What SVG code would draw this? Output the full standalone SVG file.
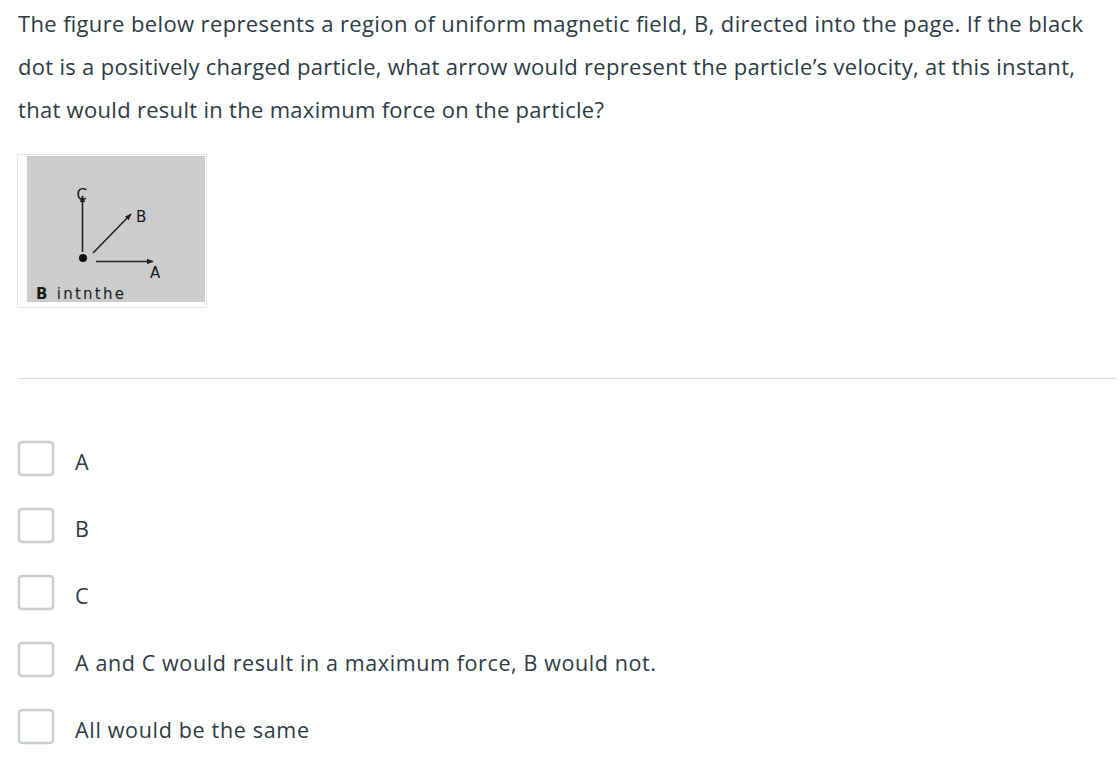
<svg xmlns="http://www.w3.org/2000/svg" width="1119" height="763" viewBox="0 0 1119 763">
  <defs>
    <style>
      .q { font-family: "Open Sans", "Noto Sans", sans-serif; font-size: 22px; fill: #2d3b45; }
      .opt { font-family: "Open Sans", "Noto Sans", sans-serif; font-size: 21.5px; fill: #2d3b45; }
      .box { fill: #ffffff; stroke: #c7cdd1; stroke-width: 2.5; }
      .lbl { font-family: "DejaVu Sans", "Liberation Sans", sans-serif; font-size: 15px; fill: #1a1a1a; }
      .arr { stroke: #222222; stroke-width: 1.6; fill: none; }
    </style>
    <marker id="head" viewBox="0 0 10 10" refX="9" refY="5" markerWidth="7" markerHeight="7" orient="auto" markerUnits="userSpaceOnUse">
      <path d="M0,1 L10,5 L0,9 Z" fill="#222222"/>
    </marker>
  </defs>
  <rect width="1119" height="763" fill="#ffffff"/>

  <g id="question">
    <text class="q" x="18" y="32" textLength="1065" lengthAdjust="spacing">The figure below represents a region of uniform magnetic field, B, directed into the page. If the black</text>
    <text class="q" x="18" y="75" textLength="1057" lengthAdjust="spacing">dot is a positively charged particle, what arrow would represent the particle’s velocity, at this instant,</text>
    <text class="q" x="18" y="118" textLength="586" lengthAdjust="spacing">that would result in the maximum force on the particle?</text>
  </g>

  <g id="figure">
    <rect x="17.5" y="154.5" width="189" height="153" fill="#ffffff" stroke="#e6e6e6" stroke-width="1"/>
    <rect x="27" y="156" width="178" height="146" fill="#cccccc"/>
    <g id="connectors">
      <line class="arr" x1="82.5" y1="252" x2="82.5" y2="196" marker-end="url(#head)"/>
      <line class="arr" x1="93" y1="253" x2="131" y2="214" marker-end="url(#head)"/>
      <line class="arr" x1="96" y1="261.5" x2="153" y2="261.5" marker-end="url(#head)"/>
    </g>
    <circle id="particle" cx="83" cy="258" r="4" fill="#111111"/>
    <text class="lbl" x="76.5" y="200">C</text>
    <text class="lbl" x="136" y="222">B</text>
    <text class="lbl" x="150" y="278">A</text>
    <text class="lbl" x="36" y="299" font-size="15" textLength="88" lengthAdjust="spacing"><tspan font-weight="bold">B</tspan> intnthe</text>
  </g>

  <line id="divider" x1="18" y1="378.5" x2="1117" y2="378.5" stroke="#dcdcdc" stroke-width="1"/>

  <g id="option-a">
    <rect class="box" x="19" y="442" width="34" height="33" rx="3"/>
    <text class="opt" x="75" y="470">A</text>
  </g>
  <g id="option-b">
    <rect class="box" x="19" y="509" width="34" height="33" rx="3"/>
    <text class="opt" x="75" y="537">B</text>
  </g>
  <g id="option-c">
    <rect class="box" x="19" y="576" width="34" height="33" rx="3"/>
    <text class="opt" x="75" y="604">C</text>
  </g>
  <g id="option-d">
    <rect class="box" x="19" y="643" width="34" height="33" rx="3"/>
    <text class="opt" x="75" y="671" textLength="581" lengthAdjust="spacing">A and C would result in a maximum force, B would not.</text>
  </g>
  <g id="option-e">
    <rect class="box" x="19" y="710" width="34" height="33" rx="3"/>
    <text class="opt" x="75" y="738" textLength="234" lengthAdjust="spacing">All would be the same</text>
  </g>
</svg>
